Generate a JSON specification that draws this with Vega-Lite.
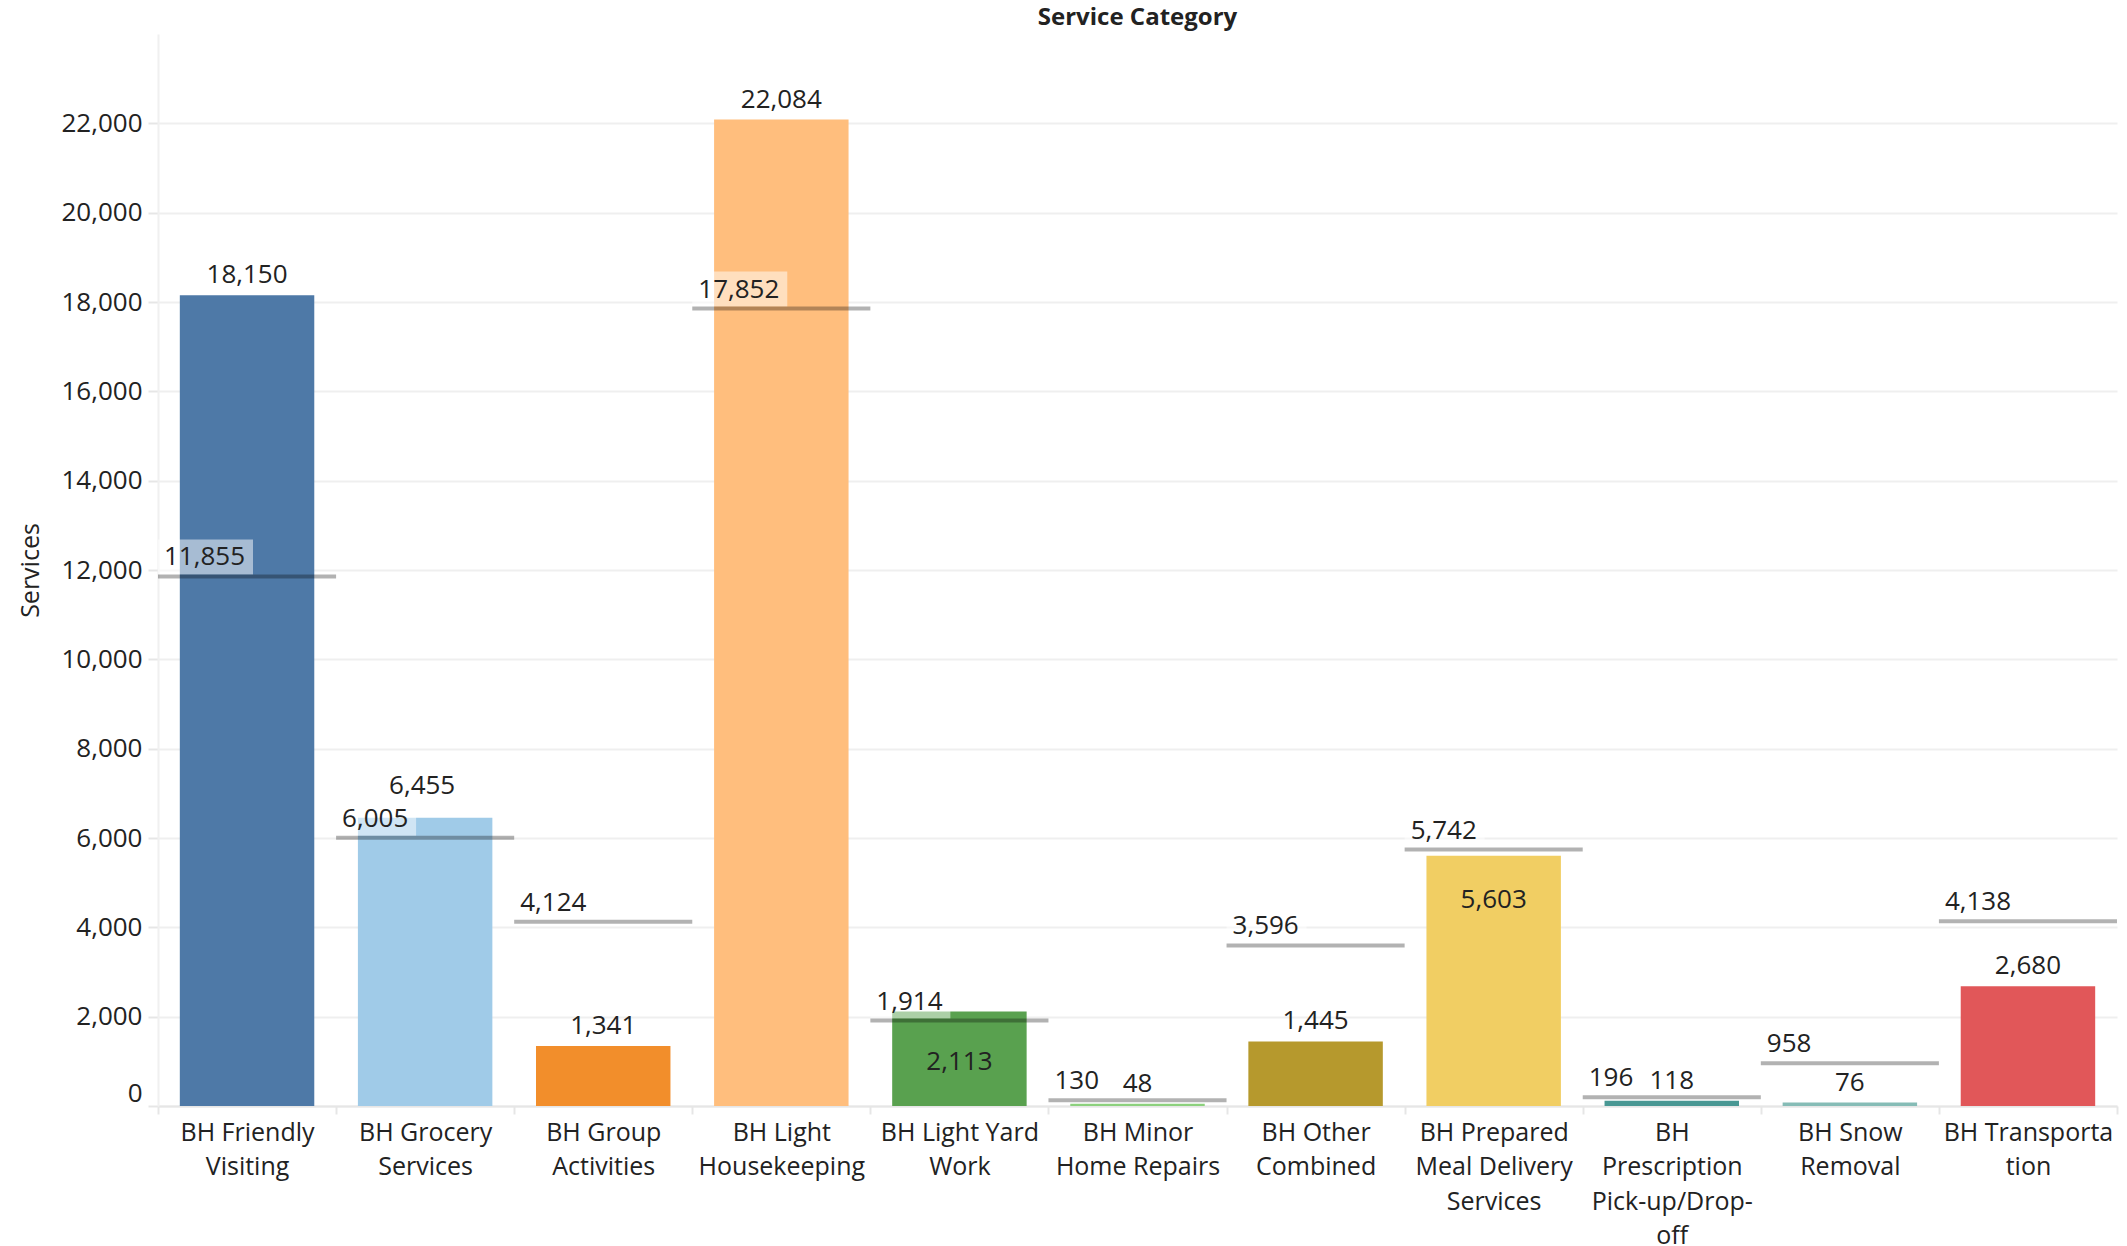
{
  "$schema": "https://vega.github.io/schema/vega-lite/v6.json",
  "width": 1959,
  "height": 1072,
  "autosize": {"type": "none"},
  "padding": {"left": 158, "top": 34, "right": 10, "bottom": 140},
  "background": "white",
  "title": {"text": "Service Category", "font": "Open Sans", "fontSize": 24, "fontWeight": "bold", "color": "#222222", "anchor": "middle", "baseline": "alphabetic", "offset": 9, "dy": 24},
  "config": {"view": {"stroke": null}, "font": "Open Sans"},
  "data": {
    "values": [
      {"category": "BH Friendly Visiting", "services": 18150, "reference": 11855},
      {"category": "BH Grocery Services", "services": 6455, "reference": 6005},
      {"category": "BH Group Activities", "services": 1341, "reference": 4124},
      {"category": "BH Light Housekeeping", "services": 22084, "reference": 17852},
      {"category": "BH Light Yard Work", "services": 2113, "reference": 1914},
      {"category": "BH Minor Home Repairs", "services": 48, "reference": 130},
      {"category": "BH Other Combined", "services": 1445, "reference": 3596},
      {"category": "BH Prepared Meal Delivery Services", "services": 5603, "reference": 5742},
      {"category": "BH Prescription Pick-up/Drop-off", "services": 118, "reference": 196},
      {"category": "BH Snow Removal", "services": 76, "reference": 958},
      {"category": "BH Transportation", "services": 2680, "reference": 4138}
    ]
  },
  "layer": [
    {
      "mark": {"type": "bar"},
      "encoding": {
        "x": {"field": "category", "type": "nominal", "sort": null, "scale": {"type": "band", "domain": ["BH Friendly Visiting", "BH Grocery Services", "BH Group Activities", "BH Light Housekeeping", "BH Light Yard Work", "BH Minor Home Repairs", "BH Other Combined", "BH Prepared Meal Delivery Services", "BH Prescription Pick-up/Drop-off", "BH Snow Removal", "BH Transportation"], "paddingInner": 0.245, "paddingOuter": 0.1225}, "axis": null},
        "y": {
          "field": "services", "type": "quantitative",
          "scale": {"domain": [0, 24000], "nice": false, "zero": true},
          "axis": {
            "values": [0, 2000, 4000, 6000, 8000, 10000, 12000, 14000, 16000, 18000, 20000, 22000],
            "format": ",.0f",
            "title": "Services",
            "titleFont": "Open Sans", "titleFontSize": 25, "titleFontWeight": "normal", "titleColor": "#222222",
            "titleX": -128, "titleY": 536, "titleAngle": -90, "titleBaseline": "middle", "titleAlign": "center",
            "labelFont": "Open Sans", "labelFontSize": 26, "labelColor": "#222222", "labelPadding": 6, "labelFlush": true,
            "grid": true, "gridColor": "#efefef", "gridWidth": 2,
            "domain": true, "domainColor": "#f0f0f0", "domainWidth": 2,
            "ticks": true, "tickColor": "#e6e6e6", "tickSize": 10, "tickWidth": 2
          }
        },
        "color": {
          "field": "category", "type": "nominal", "legend": null,
          "scale": {
            "domain": ["BH Friendly Visiting", "BH Grocery Services", "BH Group Activities", "BH Light Housekeeping", "BH Light Yard Work", "BH Minor Home Repairs", "BH Other Combined", "BH Prepared Meal Delivery Services", "BH Prescription Pick-up/Drop-off", "BH Snow Removal", "BH Transportation"],
            "range": ["#4e79a7", "#a0cbe8", "#f28e2b", "#ffbe7d", "#59a14f", "#8cd17d", "#b6992d", "#f1ce63", "#499894", "#86bcb6", "#e15759"]
          }
        }
      }
    },
    {
      "transform": [{"filter": "datum.reference >= 10000"}],
      "mark": {"type": "rect", "fill": "white", "opacity": 0.5, "x2Offset": 95, "yOffset": -2, "y2Offset": -37},
      "encoding": {
        "x": {"field": "category", "type": "nominal", "sort": null, "bandPosition": 0, "scale": {"type": "band", "domain": ["BH Friendly Visiting", "BH Grocery Services", "BH Group Activities", "BH Light Housekeeping", "BH Light Yard Work", "BH Minor Home Repairs", "BH Other Combined", "BH Prepared Meal Delivery Services", "BH Prescription Pick-up/Drop-off", "BH Snow Removal", "BH Transportation"], "paddingInner": 0, "paddingOuter": 0}, "axis": null},
        "x2": {"field": "category", "bandPosition": 0},
        "y": {"field": "reference", "type": "quantitative"},
        "y2": {"field": "reference"}
      }
    },
    {
      "transform": [{"filter": "datum.reference < 10000"}],
      "mark": {"type": "rect", "fill": "white", "opacity": 0.5, "x2Offset": 80, "yOffset": -2, "y2Offset": -37},
      "encoding": {
        "x": {"field": "category", "type": "nominal", "sort": null, "bandPosition": 0, "scale": {"type": "band", "domain": ["BH Friendly Visiting", "BH Grocery Services", "BH Group Activities", "BH Light Housekeeping", "BH Light Yard Work", "BH Minor Home Repairs", "BH Other Combined", "BH Prepared Meal Delivery Services", "BH Prescription Pick-up/Drop-off", "BH Snow Removal", "BH Transportation"], "paddingInner": 0, "paddingOuter": 0}, "axis": null},
        "x2": {"field": "category", "bandPosition": 0},
        "y": {"field": "reference", "type": "quantitative"},
        "y2": {"field": "reference"}
      }
    },
    {
      "mark": {"type": "rule", "color": "black", "opacity": 0.3, "strokeWidth": 4},
      "encoding": {
        "x": {
          "field": "category", "type": "nominal", "sort": null, "bandPosition": 0,
          "scale": {"type": "band", "domain": ["BH Friendly Visiting", "BH Grocery Services", "BH Group Activities", "BH Light Housekeeping", "BH Light Yard Work", "BH Minor Home Repairs", "BH Other Combined", "BH Prepared Meal Delivery Services", "BH Prescription Pick-up/Drop-off", "BH Snow Removal", "BH Transportation"], "paddingInner": 0, "paddingOuter": 0},
          "axis": {
            "title": null, "labelAngle": 0, "labelFont": "Open Sans", "labelFontSize": 25, "labelColor": "#222222",
            "labelLineHeight": 34.5, "labelLimit": 400, "labelPadding": 6, "labelBaseline": "top",
            "labelExpr": "{'BH Friendly Visiting': ['BH Friendly', 'Visiting'], 'BH Grocery Services': ['BH Grocery', 'Services'], 'BH Group Activities': ['BH Group', 'Activities'], 'BH Light Housekeeping': ['BH Light', 'Housekeeping'], 'BH Light Yard Work': ['BH Light Yard', 'Work'], 'BH Minor Home Repairs': ['BH Minor', 'Home Repairs'], 'BH Other Combined': ['BH Other', 'Combined'], 'BH Prepared Meal Delivery Services': ['BH Prepared', 'Meal Delivery', 'Services'], 'BH Prescription Pick-up/Drop-off': ['BH', 'Prescription', 'Pick-up/Drop-', 'off'], 'BH Snow Removal': ['BH Snow', 'Removal'], 'BH Transportation': ['BH Transporta', 'tion']}[datum.value]",
            "tickBand": "extent", "ticks": true, "tickSize": 8, "tickColor": "#e6e6e6", "tickWidth": 2,
            "domain": true, "domainColor": "#e6e6e6", "domainWidth": 2, "grid": false
          }
        },
        "x2": {"field": "category", "bandPosition": 1},
        "y": {"field": "reference", "type": "quantitative"}
      }
    },
    {
      "mark": {"type": "text", "align": "left", "baseline": "middle", "dx": 6, "dy": -19, "fontSize": 26, "font": "Open Sans", "color": "#222222"},
      "encoding": {
        "x": {"field": "category", "type": "nominal", "sort": null, "bandPosition": 0, "scale": {"type": "band", "domain": ["BH Friendly Visiting", "BH Grocery Services", "BH Group Activities", "BH Light Housekeeping", "BH Light Yard Work", "BH Minor Home Repairs", "BH Other Combined", "BH Prepared Meal Delivery Services", "BH Prescription Pick-up/Drop-off", "BH Snow Removal", "BH Transportation"], "paddingInner": 0, "paddingOuter": 0}, "axis": null},
        "y": {"field": "reference", "type": "quantitative"},
        "text": {"field": "reference", "type": "quantitative", "format": ",.0f"}
      }
    },
    {
      "transform": [{"filter": "indexof(['BH Light Yard Work', 'BH Prepared Meal Delivery Services', 'BH Grocery Services'], datum.category) < 0"}],
      "mark": {"type": "text", "align": "center", "baseline": "middle", "dy": -20, "fontSize": 26, "font": "Open Sans", "color": "#222222"},
      "encoding": {
        "x": {"field": "category", "type": "nominal", "sort": null, "bandPosition": 0.5, "scale": {"type": "band", "domain": ["BH Friendly Visiting", "BH Grocery Services", "BH Group Activities", "BH Light Housekeeping", "BH Light Yard Work", "BH Minor Home Repairs", "BH Other Combined", "BH Prepared Meal Delivery Services", "BH Prescription Pick-up/Drop-off", "BH Snow Removal", "BH Transportation"], "paddingInner": 0, "paddingOuter": 0}, "axis": null},
        "y": {"field": "services", "type": "quantitative"},
        "text": {"field": "services", "type": "quantitative", "format": ",.0f"}
      }
    },
    {
      "transform": [{"filter": "datum.category == 'BH Grocery Services'"}],
      "mark": {"type": "text", "align": "center", "baseline": "middle", "dx": -3, "dy": -32, "fontSize": 26, "font": "Open Sans", "color": "#222222"},
      "encoding": {
        "x": {"field": "category", "type": "nominal", "sort": null, "bandPosition": 0.5, "scale": {"type": "band", "domain": ["BH Friendly Visiting", "BH Grocery Services", "BH Group Activities", "BH Light Housekeeping", "BH Light Yard Work", "BH Minor Home Repairs", "BH Other Combined", "BH Prepared Meal Delivery Services", "BH Prescription Pick-up/Drop-off", "BH Snow Removal", "BH Transportation"], "paddingInner": 0, "paddingOuter": 0}, "axis": null},
        "y": {"field": "services", "type": "quantitative"},
        "text": {"field": "services", "type": "quantitative", "format": ",.0f"}
      }
    },
    {
      "transform": [{"filter": "datum.category == 'BH Light Yard Work'"}],
      "mark": {"type": "text", "align": "center", "baseline": "middle", "dy": 50, "fontSize": 26, "font": "Open Sans", "color": "#222222"},
      "encoding": {
        "x": {"field": "category", "type": "nominal", "sort": null, "bandPosition": 0.5, "scale": {"type": "band", "domain": ["BH Friendly Visiting", "BH Grocery Services", "BH Group Activities", "BH Light Housekeeping", "BH Light Yard Work", "BH Minor Home Repairs", "BH Other Combined", "BH Prepared Meal Delivery Services", "BH Prescription Pick-up/Drop-off", "BH Snow Removal", "BH Transportation"], "paddingInner": 0, "paddingOuter": 0}, "axis": null},
        "y": {"field": "services", "type": "quantitative"},
        "text": {"field": "services", "type": "quantitative", "format": ",.0f"}
      }
    },
    {
      "transform": [{"filter": "datum.category == 'BH Prepared Meal Delivery Services'"}],
      "mark": {"type": "text", "align": "center", "baseline": "middle", "dy": 44, "fontSize": 26, "font": "Open Sans", "color": "#222222"},
      "encoding": {
        "x": {"field": "category", "type": "nominal", "sort": null, "bandPosition": 0.5, "scale": {"type": "band", "domain": ["BH Friendly Visiting", "BH Grocery Services", "BH Group Activities", "BH Light Housekeeping", "BH Light Yard Work", "BH Minor Home Repairs", "BH Other Combined", "BH Prepared Meal Delivery Services", "BH Prescription Pick-up/Drop-off", "BH Snow Removal", "BH Transportation"], "paddingInner": 0, "paddingOuter": 0}, "axis": null},
        "y": {"field": "services", "type": "quantitative"},
        "text": {"field": "services", "type": "quantitative", "format": ",.0f"}
      }
    }
  ],
  "resolve": {"scale": {"x": "independent"}}
}
